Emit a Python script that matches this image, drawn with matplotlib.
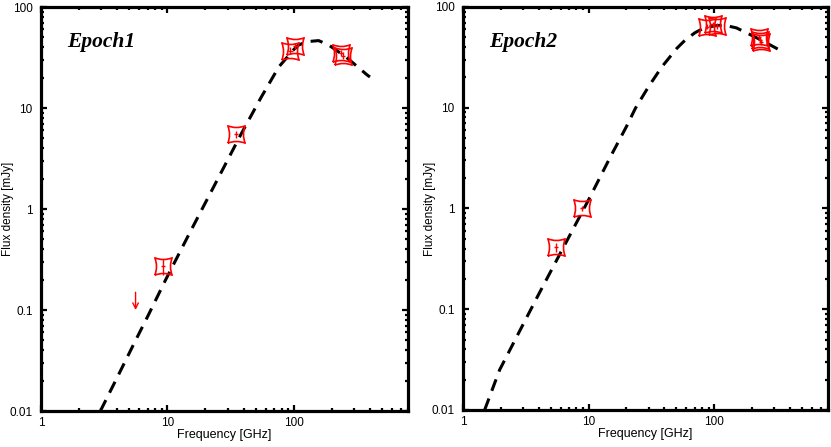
import matplotlib
matplotlib.use("Agg")
import matplotlib.pyplot as plt
import numpy as np
from matplotlib.path import Path
from matplotlib.ticker import LogLocator, FixedLocator, FixedFormatter, NullFormatter

# Epoch 1: detections, upper limit and model curve
e1_freq = [9.2, 35, 94, 103, 235, 245]
e1_flux = [0.27, 5.5, 37, 41, 35, 33]
e1_ferr = [0.05, 0.4, 3, 3, 2.5, 2.5]
e1_lim_freq = 5.6
e1_lim_top = 0.15
e1_lim_tip = 0.10
e1_model_freq = [2.95, 4, 5.6, 7, 9.7, 15, 25, 38.5, 55, 76, 100, 109, 127, 157, 189, 257, 381, 400]
e1_model_flux = [0.01, 0.0214, 0.05, 0.087, 0.2, 0.58, 1.98, 5.6, 12.7, 25.5, 38, 42, 45.4, 46.5, 42, 32.2, 21.2, 20.3]

# Epoch 2: detections and model curve
e2_freq = [5.5, 8.9, 88, 97, 106, 228, 236, 232]
e2_flux = [0.41, 1.0, 64, 67, 65, 50, 45, 47]
e2_ferr = [0.04, 0.06, 4, 4, 4, 3, 3, 3]
e2_model_freq = [1.49, 1.96, 3, 4, 6.03, 10, 15, 20, 23.6, 30, 38.3, 50.4, 58.7, 70.3, 82, 100, 120, 150, 236, 364]
e2_model_flux = [0.01, 0.025, 0.07, 0.14, 0.37, 1.22, 3.3, 6.5, 9.9, 16.2, 25.5, 38.9, 47, 55.6, 61.4, 65, 66, 62, 47, 35]

panels = [
    ("Epoch1", e1_freq, e1_flux, e1_ferr, e1_model_freq, e1_model_flux),
    ("Epoch2", e2_freq, e2_flux, e2_ferr, e2_model_freq, e2_model_flux),
]

plt.rcParams['font.family'] = ['Liberation Sans', 'DejaVu Sans']

# concave four-pointed square marker
verts = [(-1, -1), (0, -0.6), (1, -1), (0.6, 0), (1, 1), (0, 0.6),
         (-1, 1), (-0.6, 0), (-1, -1)]
codes = [Path.MOVETO] + [Path.CURVE3] * 8
star = Path(verts, codes)

fig = plt.figure(figsize=(8.31, 4.47), dpi=100)
rects = [[0.0493, 0.0805, 0.4417, 0.9038], [0.557, 0.0828, 0.4392, 0.9016]]
ylab_x = [-0.074, -0.073]

for rect, lx, (name, fq, fl, fe, mf, mfl) in zip(rects, ylab_x, panels):
    ax = fig.add_axes(rect)
    ax.set_xscale('log')
    ax.set_yscale('log')
    ax.set_xlim(1, 800)
    ax.set_ylim(0.01, 100)

    ax.plot(mf, mfl, color='black', lw=2.2, linestyle=(0, (4, 2.7)))
    ax.errorbar(fq, fl, yerr=fe, xerr=[f * 0.04 for f in fq], fmt='none',
                ecolor='red', elinewidth=1.0)
    ax.plot(fq, fl, linestyle='none', marker=star, ms=12.5, mfc='none',
            mec='red', mew=1.2)

    if name == "Epoch1":
        ax.annotate('', xy=(e1_lim_freq, e1_lim_tip), xytext=(e1_lim_freq, e1_lim_top),
                    arrowprops=dict(arrowstyle='->', color='red', lw=1.0,
                                    shrinkA=0, shrinkB=0))

    ax.text(0.072, 0.913, name, transform=ax.transAxes, fontsize=15.5,
            family='Liberation Serif', fontweight='bold', fontstyle='italic',
            va='center', ha='left')

    ax.xaxis.set_major_locator(FixedLocator([1, 10, 100]))
    ax.xaxis.set_major_formatter(FixedFormatter(['1', '10', '100']))
    ax.yaxis.set_major_locator(FixedLocator([0.01, 0.1, 1, 10, 100]))
    ax.yaxis.set_major_formatter(FixedFormatter(['0.01', '0.1', '1', '10', '100']))
    ax.xaxis.set_minor_locator(LogLocator(base=10, subs=np.arange(2, 10)))
    ax.yaxis.set_minor_locator(LogLocator(base=10, subs=np.arange(2, 10)))
    ax.xaxis.set_minor_formatter(NullFormatter())
    ax.yaxis.set_minor_formatter(NullFormatter())

    ax.tick_params(which='both', direction='in', top=True, right=True,
                   labelsize=8.5, width=1.6)
    ax.tick_params(axis='y', which='major', pad=6)
    ax.tick_params(axis='x', which='major', pad=4)
    ax.tick_params(which='major', length=4)
    ax.tick_params(which='minor', length=2)
    for sp in ax.spines.values():
        sp.set_linewidth(2.3)

    ax.set_xlabel('Frequency [GHz]', fontsize=9)
    ax.set_ylabel('Flux density [mJy]', fontsize=8.5)
    ax.xaxis.set_label_coords(0.5, -0.045)
    ax.yaxis.set_label_coords(lx, 0.5)

fig.savefig('out.png', dpi=100)
